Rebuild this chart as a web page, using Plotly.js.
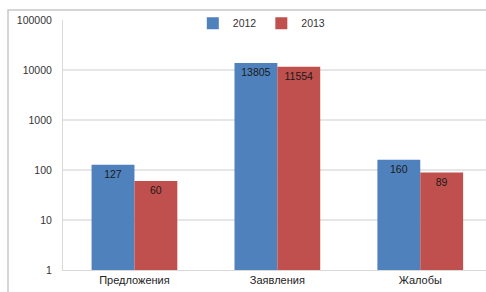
<!DOCTYPE html>
<html><head><meta charset="utf-8">
<script src="https://cdn.plot.ly/plotly-3.0.1.min.js"></script>
<style>html,body{margin:0;padding:0;background:#fff}#c{width:486px;height:292px}</style>
</head><body><div id="c"></div>
<script>
const categories = ["Предложения", "Заявления", "Жалобы"];
const seriesNames = ["2012", "2013"];
const values2012 = [127, 13805, 160];
const values2013 = [60, 11554, 89];
const yTickVals = [1, 10, 100, 1000, 10000, 100000];
const yTickText = ["1", "10", "100", "1000", "10000", "100000"];

const font = {family: "Liberation Sans, Arial, sans-serif", size: 10, color: "#333"};
function trace(name, vals, color) {
  return {type: "bar", name: name, x: categories, y: vals, marker: {color: color, line: {width: 0}},
    text: vals.map(String), textposition: "inside", insidetextanchor: "end",
    textfont: {family: font.family, size: 10.5, color: "#1a1a1a"}, cliponaxis: false, hoverinfo: "none"};
}
const data = [trace(seriesNames[0], values2012, "#4F81BD"), trace(seriesNames[1], values2013, "#C0504D")];
const layout = {
  width: 486, height: 292, margin: {l: 63, r: 0, t: 20, b: 22},
  paper_bgcolor: "#fff", plot_bgcolor: "#fff", font: font,
  bargap: 0.4, bargroupgap: 0, showlegend: true,
  legend: {orientation: "h", x: 0.47, xanchor: "center", y: 1.045, yanchor: "top", font: {size: 10.5, color: "#333"}, bgcolor: "rgba(0,0,0,0)", itemwidth: 30, tracegroupgap: 0},
  xaxis: {range: [-0.5, 2.46], showgrid: false, showline: true, linecolor: "#d9d9d9", ticks: "", tickfont: {size: 11, color: "#222"}, fixedrange: true},
  yaxis: {type: "log", range: [0, 5], tickvals: yTickVals, ticktext: yTickText, showgrid: true, gridcolor: "#e6e6e6", gridwidth: 1.5,
    showline: true, linecolor: "#d9d9d9", mirror: true, zeroline: false, ticks: "", ticklabelstandoff: 8, tickfont: {size: 10.5, color: "#333"}},
  shapes: [{type: "rect", xref: "paper", yref: "paper", x0: (8-63)/423, x1: 1.02, y0: -0.2, y1: 1 + 10/250, line: {color: "#c8c8c8", width: 1.5}, fillcolor: "rgba(0,0,0,0)", layer: "below"}]
};
Plotly.newPlot("c", data, layout, {staticPlot: true});
</script></body></html>
